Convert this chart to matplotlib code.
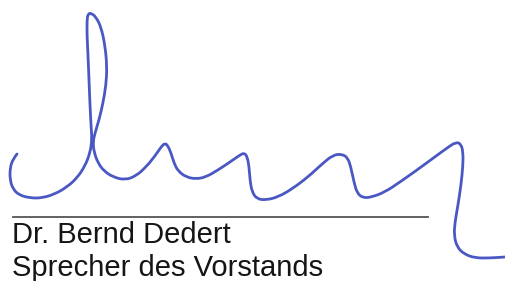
import matplotlib.pyplot as plt
from matplotlib.path import Path
from matplotlib.patches import PathPatch

# Signature stroke, traced in pixel coordinates (x right, y down)
sig_x = [17, 13, 10, 10, 13, 19, 30, 42, 55, 67, 77, 85, 90, 92, 91, 90, 89, 88, 87, 87,
         88, 91, 96, 101, 105, 107, 106, 103, 99, 95, 93, 94, 98, 104, 113, 125, 136, 146,
         155, 161, 165, 168, 171, 174, 178, 186, 196, 206, 218, 230, 240, 244, 247, 249,
         250, 252, 257, 266, 278, 292, 308, 322, 333, 342, 348, 351, 354, 357, 363, 372,
         385, 400, 417, 432, 447, 456, 461, 463, 463, 461, 458, 455, 454, 457, 464, 475,
         490, 505]
sig_y = [154, 159, 168, 180, 189, 195, 198, 198, 194, 187, 178, 166, 153, 140, 125, 105, 80,
         55, 35, 20, 14, 13, 17, 27, 45, 67, 85, 103, 120, 133, 142, 152, 163, 171, 177, 180,
         176, 167, 156, 147, 143, 146, 153, 163, 171, 177, 179, 177, 170, 162, 155, 153, 156,
         166, 180, 192, 199, 200, 197, 189, 177, 164, 155, 154, 158, 168, 182, 193, 198, 197,
         192, 182, 170, 159, 148, 142, 144, 152, 165, 185, 205, 222, 235, 247, 254, 258, 258,
         257]

# Signature rule
rule_x = [13, 428]
rule_y = [217, 217]

name = "Dr. Bernd Dedert"
title = "Sprecher des Vorstands"

fig = plt.figure(figsize=(5.05, 2.81), dpi=100)
ax = fig.add_axes([0, 0, 1, 1])
ax.set_xlim(0, 505)
ax.set_ylim(281, 0)
ax.axis('off')

ax.plot(rule_x, rule_y, color='#555555', linewidth=1.3)

# smooth stroke: traced points as quadratic control points, midpoints on the curve
pts = list(zip(sig_x, sig_y))
verts = [pts[0]]
codes = [Path.MOVETO]
for i in range(1, len(pts) - 1):
    mid = ((pts[i][0] + pts[i + 1][0]) / 2, (pts[i][1] + pts[i + 1][1]) / 2)
    verts += [pts[i], mid]
    codes += [Path.CURVE3, Path.CURVE3]
verts.append(pts[-1])
codes.append(Path.LINETO)
ax.add_patch(PathPatch(Path(verts, codes), facecolor='none', edgecolor='#4a58c4',
                       linewidth=2.0, capstyle='round', joinstyle='round'))

ax.text(12, 243, name, fontsize=21, family='Liberation Sans', color='#151515',
        va='baseline', ha='left')
ax.text(12, 275.5, title, fontsize=21, family='Liberation Sans', color='#151515',
        va='baseline', ha='left')

fig.savefig('out.png', dpi=100)
